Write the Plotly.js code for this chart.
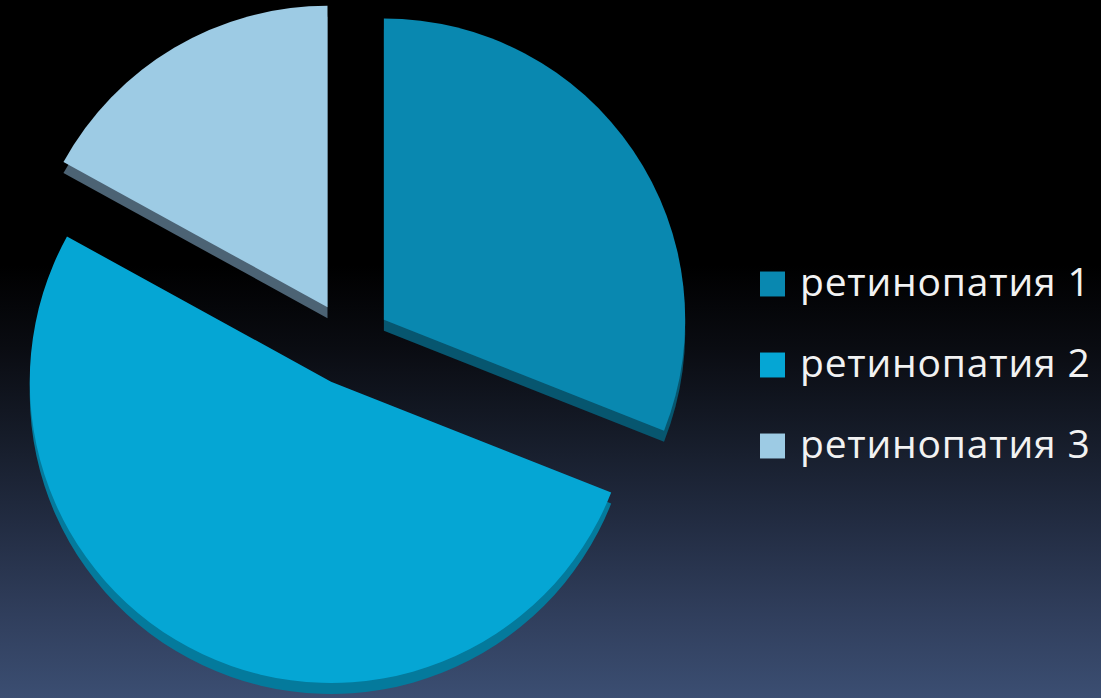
<!DOCTYPE html>
<html>
<head>
<meta charset="utf-8">
<script src="https://cdn.plot.ly/plotly-3.0.1.min.js"></script>
<style>
  html, body { margin: 0; padding: 0; width: 1101px; height: 698px; overflow: hidden; }
  body {
    background: linear-gradient(to bottom, #000000 0%, #000000 38%, #0a0c12 50%, #151b28 62%, #222c42 75%, #303e5c 88%, #3b4e72 100%);
  }
  #chart { width: 1101px; height: 698px; }
  .legend .legendpie { transform: translate(12.5px, 0px) scale(2.08); }
</style>
</head>
<body>
<div id="chart"></div>
<script>
// ---- data ----
const categories = ['ретинопатия 1', 'ретинопатия 2', 'ретинопатия 3'];
const values = [31, 52, 17];
const topColors = ['#0988B0', '#05A6D4', '#9DCBE4'];
const sideColors = ['#07566F', '#047A9C', '#4C6374'];

// legend labels (first line shown large, blank second line gives row spacing)
const legendLabels = categories.map(c => '<span style="font-size:39px;letter-spacing:0.8px">' + c + '</span><br>\u00a0');

const H = 698, W = 1101;
const pull = 0.14;
const depth = 11;

const sideTrace = {
  type: 'pie',
  values: values,
  labels: legendLabels,
  sort: false,
  direction: 'clockwise',
  rotation: 0,
  pull: pull,
  textinfo: 'none',
  hoverinfo: 'skip',
  showlegend: false,
  marker: { colors: sideColors, line: { width: 0 } },
  domain: { x: [4 / W, 694 / W], y: [0, 1 - depth / H] }
};

const topTrace = {
  type: 'pie',
  values: values,
  labels: legendLabels,
  sort: false,
  direction: 'clockwise',
  rotation: 0,
  pull: pull,
  textinfo: 'none',
  hoverinfo: 'none',
  marker: { colors: topColors, line: { width: 0 } },
  domain: { x: [4 / W, 694 / W], y: [depth / H, 1] }
};

const layout = {
  width: W,
  height: H,
  margin: { l: 0, r: 0, t: 0, b: 0 },
  paper_bgcolor: 'rgba(0,0,0,0)',
  plot_bgcolor: 'rgba(0,0,0,0)',
  showlegend: true,
  legend: {
    x: 760 / W,
    xanchor: 'left',
    y: 1 - 258 / H,
    yanchor: 'top',
    valign: 'top',
    bgcolor: 'rgba(0,0,0,0)',
    borderwidth: 0,
    font: { family: 'Open Sans, sans-serif', size: 30, color: '#F2F2F2' }
  }
};

Plotly.newPlot('chart', [sideTrace, topTrace], layout, { displayModeBar: false, staticPlot: true });
</script>
</body>
</html>
